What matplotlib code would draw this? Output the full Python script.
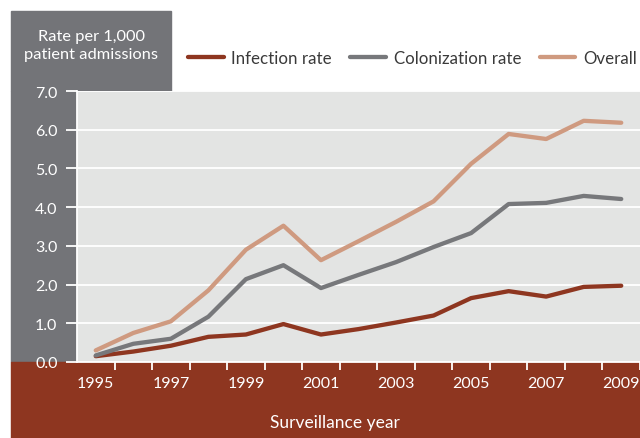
import matplotlib
matplotlib.use("Agg")
import matplotlib.pyplot as plt
from matplotlib.patches import Rectangle
from matplotlib.ticker import FixedLocator

plt.rcParams['font.family'] = ['Lato', 'DejaVu Sans']

years = list(range(1995, 2010))
infection = [0.15, 0.27, 0.42, 0.65, 0.71, 0.98, 0.71, 0.85, 1.02, 1.20, 1.65, 1.83, 1.69, 1.94, 1.97]
colonization = [0.17, 0.47, 0.60, 1.17, 2.14, 2.50, 1.91, 2.25, 2.58, 2.97, 3.33, 4.08, 4.11, 4.29, 4.21]
overall = [0.30, 0.75, 1.05, 1.85, 2.90, 3.52, 2.63, 3.12, 3.62, 4.15, 5.12, 5.89, 5.76, 6.23, 6.18]
series_names = ["Infection rate", "Colonization rate", "Overall"]
yticks = [0.0, 1.0, 2.0, 3.0, 4.0, 5.0, 6.0, 7.0]
xlabels = [1995, 1997, 1999, 2001, 2003, 2005, 2007, 2009]

W, H = 640, 439
fig = plt.figure(figsize=(W / 100, H / 100), dpi=100)
fig.patch.set_facecolor('white')

def fx(px):
    return px / W

def fy(py):
    return 1 - py / H

GRAY = '#737478'
RUST = '#8E3620'
BG = '#E3E4E3'

# background bands
fig.patches.append(Rectangle((fx(11), fy(363)), fx(77) - fx(11), fy(92) - fy(363),
                             transform=fig.transFigure, color=GRAY, zorder=-5))
fig.patches.append(Rectangle((fx(11), fy(92)), fx(171) - fx(11), fy(12) - fy(92),
                             transform=fig.transFigure, color=GRAY, zorder=-5))
fig.patches.append(Rectangle((fx(11), 0), 1 - fx(11), fy(363),
                             transform=fig.transFigure, color=RUST, zorder=-5))

ax = fig.add_axes([fx(77), fy(363), 1 - fx(77), fy(92) - fy(363)])
ax.set_zorder(2)
ax.set_facecolor(BG)

colors = [RUST, '#77787B', '#CF9A80']
for vals, c, name in zip([infection, colonization, overall], colors, series_names):
    ax.plot(years, vals, color=c, lw=3.1, solid_capstyle='round', solid_joinstyle='round',
            label=name, zorder=3, clip_on=False)

ax.set_xlim(1994.5, 2009.5)
ax.set_ylim(0, 7)
ax.yaxis.set_major_locator(FixedLocator(yticks))
ax.set_yticklabels([f"{v:.1f}" for v in yticks])
ax.xaxis.set_major_locator(FixedLocator(xlabels))
ax.set_xticklabels([str(y) for y in xlabels])
ax.xaxis.set_minor_locator(FixedLocator([y + 0.5 for y in range(1995, 2010)]))

ax.grid(axis='y', color='white', lw=1.3, zorder=1)
ax.set_axisbelow(True)
for s in ['top', 'right']:
    ax.spines[s].set_visible(False)
ax.spines['left'].set_color('white')
ax.spines['left'].set_linewidth(1.3)
ax.spines['bottom'].set_color('white')
ax.spines['bottom'].set_linewidth(1.3)

ax.tick_params(axis='y', colors='white', length=8, width=1.3, pad=6, labelsize=11.5, labelcolor='white')
ax.tick_params(axis='x', which='major', length=0, pad=10, labelsize=11.5, labelcolor='white')
ax.tick_params(axis='x', which='minor', length=5.5, width=1.3, color='white')

fig.text(fx(91), fy(46), "Rate per 1,000\npatient admissions", color='white', ha='center', va='center',
         fontsize=11.8, linespacing=1.35)
fig.text(fx(335), fy(423), "Surveillance year", color='white', ha='center', va='center', fontsize=12.5)

leg = fig.legend(loc='center left', bbox_to_anchor=(fx(188), fy(59)), ncol=3, frameon=False,
                 handlelength=2.1, handletextpad=0.45, columnspacing=1.1, fontsize=12.2,
                 borderaxespad=0, borderpad=0)
for t in leg.get_texts():
    t.set_color('#3a3a3a')

fig.savefig('out.png', dpi=100)
